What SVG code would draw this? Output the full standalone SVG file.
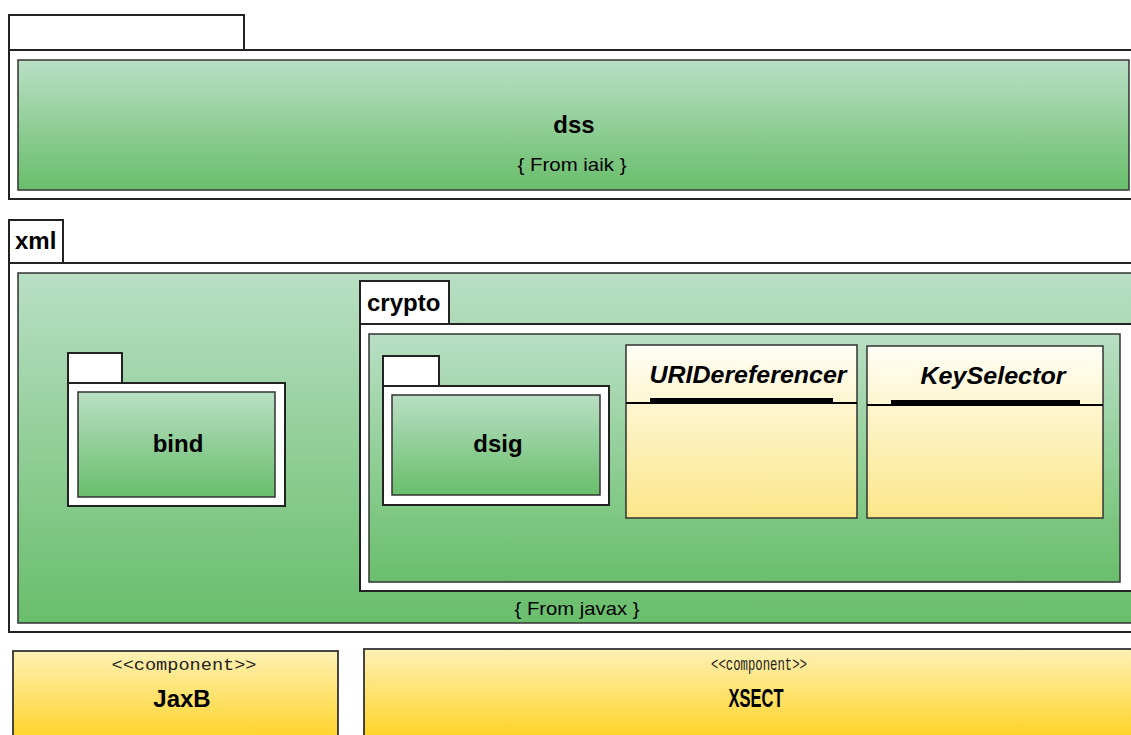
<svg xmlns="http://www.w3.org/2000/svg" width="1131" height="735" viewBox="0 0 1131 735">
<defs>
<linearGradient id="gGreen" x1="0" y1="0" x2="0" y2="1"><stop offset="0" stop-color="#b9dfc4"/><stop offset="1" stop-color="#69be6b"/></linearGradient>
<linearGradient id="gClass" x1="0" y1="0" x2="0" y2="1"><stop offset="0" stop-color="#fffef6"/><stop offset="1" stop-color="#fbe688"/></linearGradient>
<linearGradient id="gComp" x1="0" y1="0" x2="0" y2="1"><stop offset="0" stop-color="#fff1b5"/><stop offset="1" stop-color="#ffcf14"/></linearGradient>
</defs>
<style>
.frame{fill:#fff;stroke:#222;stroke-width:2}
.green{fill:url(#gGreen);stroke:#333;stroke-width:1.5}
.cls{fill:url(#gClass);stroke:#333;stroke-width:1.5}
.comp{fill:url(#gComp);stroke:#333;stroke-width:1.8}
.bold{font-family:"Liberation Sans",Arial,sans-serif;font-weight:bold;font-size:24px;fill:#000}
.ital{font-family:"Liberation Sans",Arial,sans-serif;font-weight:bold;font-style:italic;font-size:24px;fill:#000}
.note{font-family:"Liberation Sans",Arial,sans-serif;font-size:19px;fill:#000}
.mono{font-family:"Liberation Mono","Courier New",monospace;font-size:17px;fill:#222}
</style>
<rect width="1131" height="735" fill="#fff"/>

<g id="dss">
<rect class="frame" x="9" y="15" width="235" height="35"/>
<rect class="frame" x="9" y="50" width="1130" height="149"/>
<rect class="green" x="18" y="60" width="1111" height="130"/>
<text class="bold" x="574" y="133" text-anchor="middle">dss</text>
<text class="note" x="572" y="171" text-anchor="middle" textLength="109" lengthAdjust="spacingAndGlyphs">{ From iaik }</text>
</g>

<g id="xml">
<rect class="frame" x="9" y="220" width="54" height="43"/>
<text class="bold" x="15" y="249">xml</text>
<rect class="frame" x="9" y="263" width="1130" height="369"/>
<rect class="green" x="18" y="273" width="1121" height="350"/>
<text class="note" x="577" y="615" text-anchor="middle" textLength="125" lengthAdjust="spacingAndGlyphs">{ From javax }</text>
</g>

<g id="bind">
<rect class="frame" x="68" y="353" width="54" height="30"/>
<rect class="frame" x="68" y="383" width="217" height="123"/>
<rect class="green" x="78" y="392" width="197" height="105"/>
<text class="bold" x="178" y="452" text-anchor="middle">bind</text>
</g>

<g id="crypto">
<rect class="frame" x="360" y="281" width="89" height="43"/>
<text class="bold" x="367" y="311">crypto</text>
<rect class="frame" x="360" y="324" width="780" height="267"/>
<rect class="green" x="369" y="334" width="751" height="248"/>
</g>

<g id="dsig">
<rect class="frame" x="383" y="356" width="56" height="30"/>
<rect class="frame" x="383" y="386" width="226" height="119"/>
<rect class="green" x="392" y="395" width="208" height="100"/>
<text class="bold" x="498" y="452" text-anchor="middle">dsig</text>
</g>

<g id="URIDereferencer">
<rect class="cls" x="626" y="345" width="231" height="173"/>
<line x1="626" y1="403" x2="857" y2="403" stroke="#000" stroke-width="2"/>
<rect x="650" y="398" width="183" height="5" fill="#000"/>
<text class="ital" x="748" y="383" text-anchor="middle" textLength="197" lengthAdjust="spacingAndGlyphs">URIDereferencer</text>
</g>

<g id="KeySelector">
<rect class="cls" x="867" y="346" width="236" height="172"/>
<line x1="867" y1="405" x2="1103" y2="405" stroke="#000" stroke-width="2"/>
<rect x="891" y="400" width="189" height="5" fill="#000"/>
<text class="ital" x="993" y="384" text-anchor="middle" textLength="145" lengthAdjust="spacingAndGlyphs">KeySelector</text>
</g>

<g id="JaxB">
<rect class="comp" x="13" y="651" width="325" height="100"/>
<text class="mono" x="184" y="670" text-anchor="middle" textLength="145" lengthAdjust="spacingAndGlyphs">&lt;&lt;component&gt;&gt;</text>
<text class="bold" x="182" y="707" text-anchor="middle">JaxB</text>
</g>

<g id="XSECT">
<rect class="comp" x="364" y="649" width="780" height="100"/>
<text class="mono" x="759" y="670" text-anchor="middle" textLength="96" lengthAdjust="spacingAndGlyphs" style="font-size:19px">&lt;&lt;component&gt;&gt;</text>
<text class="bold" x="756" y="707" text-anchor="middle" textLength="55" lengthAdjust="spacingAndGlyphs" style="font-size:26px">XSECT</text>
</g>

<g id="connectors"></g>
</svg>
